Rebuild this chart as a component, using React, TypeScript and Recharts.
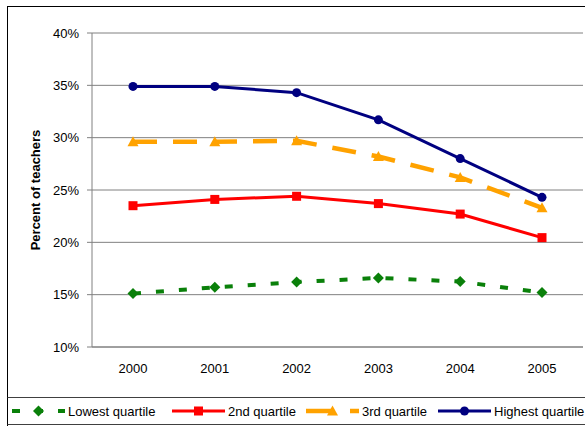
import React from 'react';
import { LineChart, Line, XAxis, YAxis, CartesianGrid } from 'recharts';

const years = ['2000', '2001', '2002', '2003', '2004', '2005'];
const lowest = [15.1, 15.7, 16.2, 16.6, 16.25, 15.2];
const second = [23.5, 24.1, 24.4, 23.7, 22.7, 20.45];
const third = [29.6, 29.6, 29.7, 28.2, 26.2, 23.3];
const highest = [34.9, 34.9, 34.3, 31.7, 28.0, 24.3];
const yTicks = [10, 15, 20, 25, 30, 35, 40];
const boundaryTicks = [0, 1, 2, 3, 4, 5, 6];

const data = years.map((year, i) => ({
  year,
  lowest: lowest[i],
  second: second[i],
  third: third[i],
  highest: highest[i],
}));

const FONT = '"Liberation Sans", Arial, sans-serif';
const GREEN = '#0a800a';
const RED = '#ff0000';
const ORANGE = '#ffa200';
const NAVY = '#000080';

// marker shapes
const Diamond = ({ cx, cy, fill }: any) => (
  <polygon points={`${cx},${cy - 5.5} ${cx + 5.5},${cy} ${cx},${cy + 5.5} ${cx - 5.5},${cy}`} fill={fill} />
);
const Square = ({ cx, cy, fill }: any) => <rect x={cx - 4.5} y={cy - 4.5} width={9} height={9} fill={fill} />;
const Triangle = ({ cx, cy, fill }: any) => (
  <polygon points={`${cx},${cy - 5.5} ${cx + 5.5},${cy + 4.5} ${cx - 5.5},${cy + 4.5}`} fill={fill} />
);
const Circle = ({ cx, cy, fill }: any) => <circle cx={cx} cy={cy} r={4.5} fill={fill} />;

const legendItems = [
  { label: 'Lowest quartile', color: GREEN, dash: '8 15', width: 4, Marker: Diamond, left: 10 },
  { label: '2nd quartile', color: RED, dash: undefined, width: 3, Marker: Square, left: 170 },
  { label: '3rd quartile', color: ORANGE, dash: '26 18', width: 4.5, Marker: Triangle, left: 304 },
  { label: 'Highest quartile', color: NAVY, dash: undefined, width: 3, Marker: Circle, left: 436 },
];

export default function App() {
  return (
    <div style={{ position: 'absolute', left: 0, top: 0, width: 585, height: 426, overflow: 'hidden', background: '#fff', fontFamily: FONT }}>
      {/* outer frame */}
      <div style={{ position: 'absolute', left: 7, top: 6, width: 640, height: 460, border: '1px solid #000' }} />

      <LineChart width={585} height={426} data={data} margin={{ top: 33, right: 2, bottom: 49, left: 0 }} style={{ position: 'absolute', left: 0, top: 0 }}>
        <CartesianGrid vertical={false} stroke="#808080" strokeWidth={1} />
        <XAxis
          xAxisId="b"
          type="number"
          domain={[0, 6]}
          ticks={boundaryTicks}
          allowDataOverflow
          height={0}
          axisLine={false}
          tickSize={5}
          stroke="#808080"
          tickFormatter={() => ''}
        />
        <XAxis
          dataKey="year"
          padding={{ left: 41, right: 41 }}
          height={30}
          stroke="#808080"
          tickLine={false}
          tickSize={0}
          tickMargin={17}
          tick={{ fill: '#000', fontSize: 13, fontFamily: FONT }}
        />
        <YAxis
          domain={[10, 40]}
          ticks={yTicks}
          width={92}
          stroke="#808080"
          tickSize={5}
          tickMargin={8}
          tickFormatter={(v) => `${v}%`}
          tick={{ fill: '#000', fontSize: 13, fontFamily: FONT }}
          label={{ value: 'Percent of teachers', angle: -90, position: 'center', dx: -11, style: { fontWeight: 'bold', fontSize: 13, fill: '#000', fontFamily: FONT } }}
        />
        <YAxis yAxisId="r" orientation="right" domain={[10, 40]} width={0} tick={false} tickLine={false} stroke="#b8b8b8" strokeWidth={2} />

        <Line dataKey="lowest" stroke={GREEN} strokeWidth={4} strokeDasharray="8 15" isAnimationActive={false}
          dot={(p: any) => <Diamond key={`d${p.index}`} cx={p.cx} cy={p.cy} fill={GREEN} />} />
        <Line dataKey="second" stroke={RED} strokeWidth={3} isAnimationActive={false}
          dot={(p: any) => <Square key={`s${p.index}`} cx={p.cx} cy={p.cy} fill={RED} />} />
        <Line dataKey="third" stroke={ORANGE} strokeWidth={4.5} strokeDasharray="24 16" isAnimationActive={false}
          dot={(p: any) => <Triangle key={`t${p.index}`} cx={p.cx} cy={p.cy} fill={ORANGE} />} />
        <Line dataKey="highest" stroke={NAVY} strokeWidth={3} isAnimationActive={false}
          dot={(p: any) => <Circle key={`c${p.index}`} cx={p.cx} cy={p.cy} fill={NAVY} />} />
      </LineChart>

      {/* legend box */}
      <div style={{ position: 'absolute', left: 7, top: 397, width: 640, height: 26, borderTop: '1px solid #404040', borderBottom: '1px solid #404040', borderLeft: '1px solid #000' }}>
        {legendItems.map((it) => (
          <div key={it.label} style={{ position: 'absolute', left: it.left - 7, top: 0, height: 26, display: 'flex', alignItems: 'center', whiteSpace: 'nowrap' }}>
            <svg width={55} height={14} style={{ display: 'block' }}>
              <line x1={1} y1={7} x2={54} y2={7} stroke={it.color} strokeWidth={it.width} strokeDasharray={it.dash} />
              <it.Marker cx={27.5} cy={7} fill={it.color} />
            </svg>
            <span style={{ fontSize: 13, color: '#000', marginLeft: 2 }}>{it.label}</span>
          </div>
        ))}
      </div>
    </div>
  );
}
